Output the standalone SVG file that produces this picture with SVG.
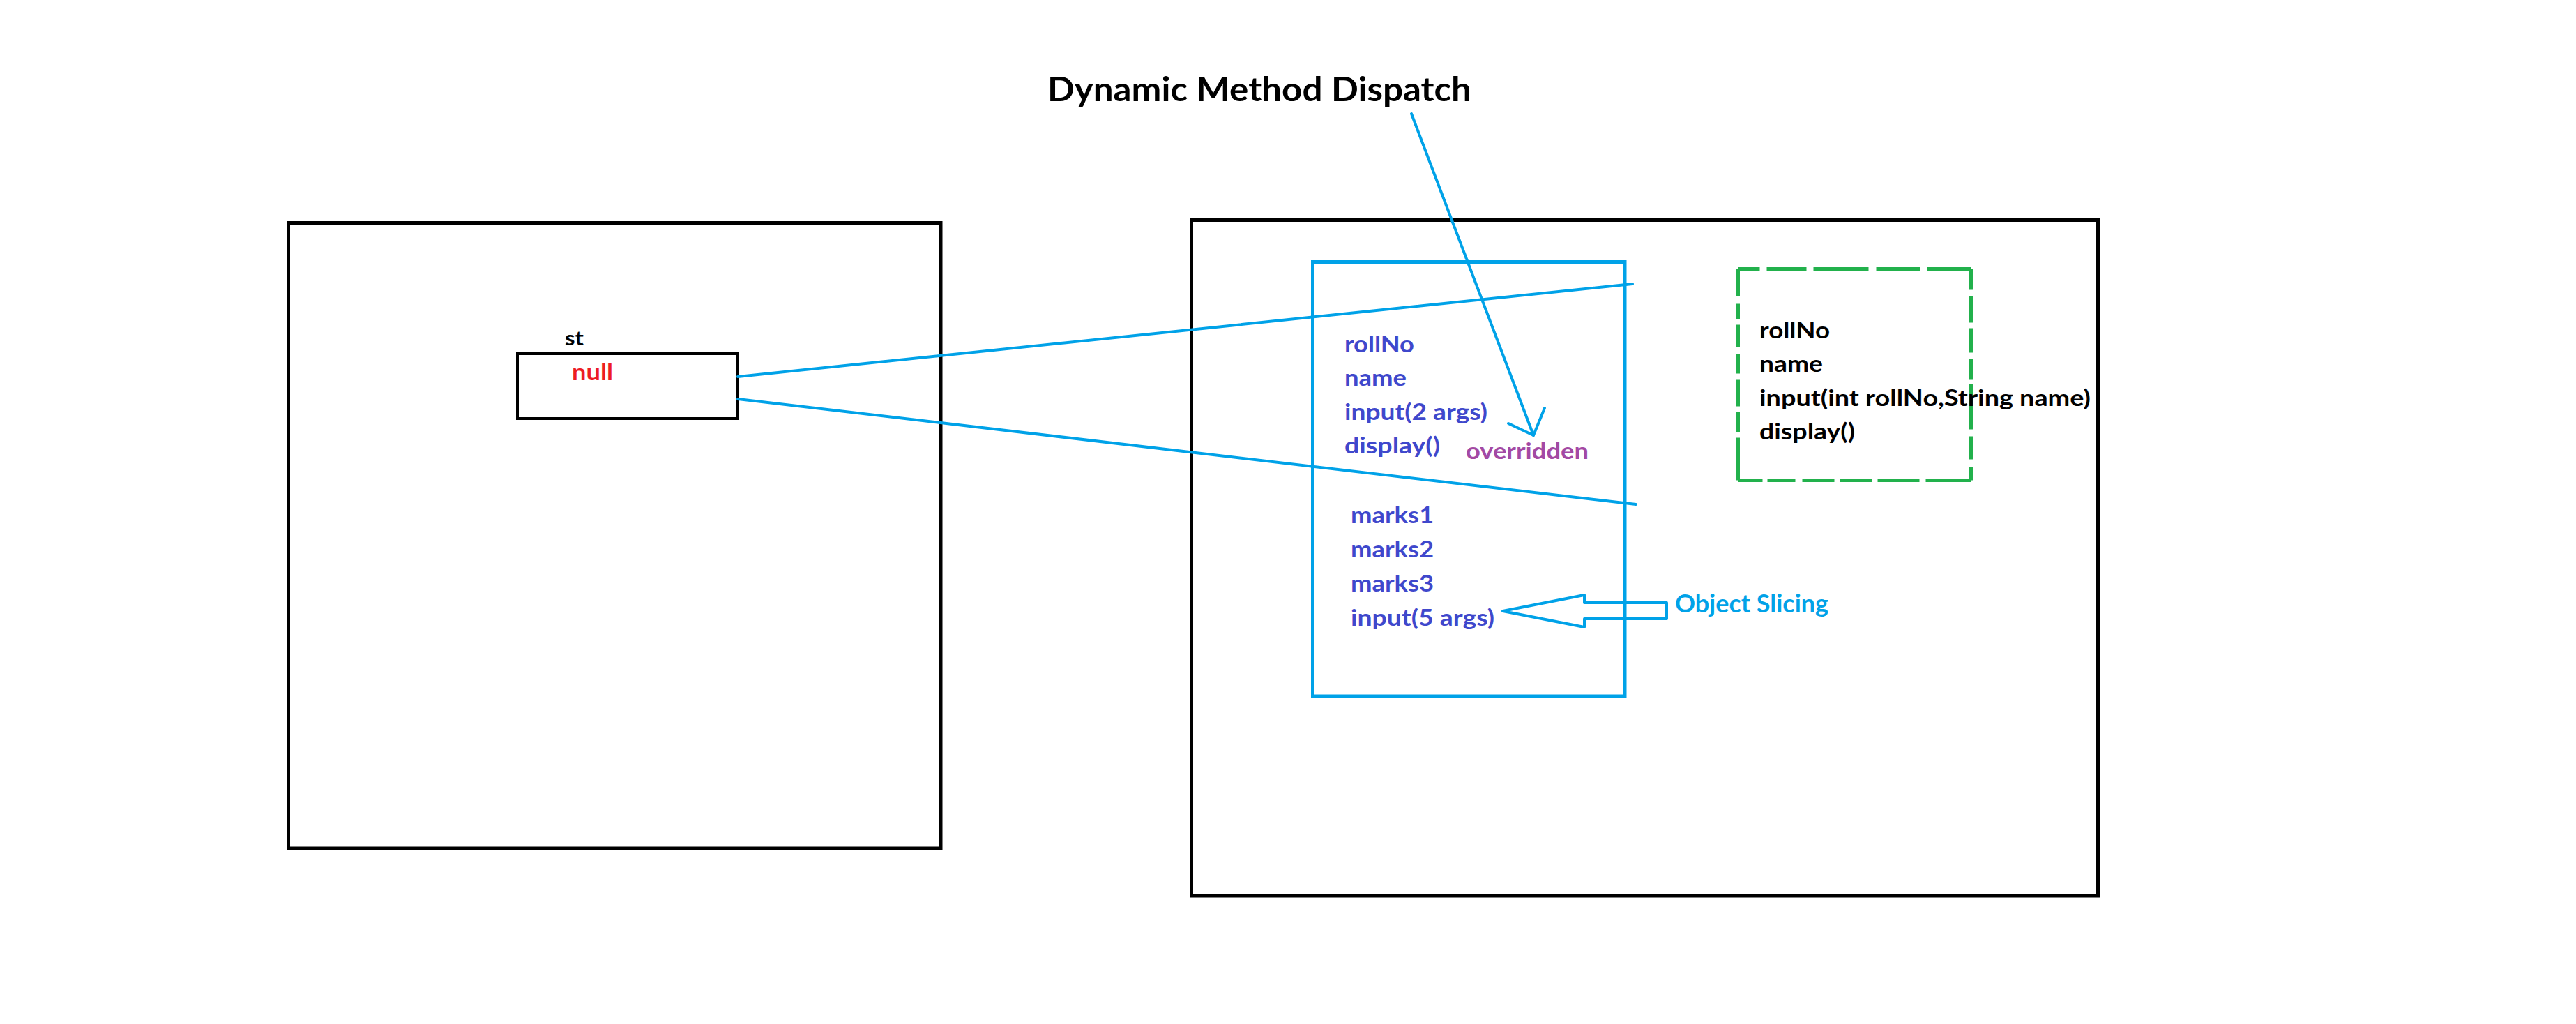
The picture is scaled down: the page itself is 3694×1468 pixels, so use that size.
<svg xmlns="http://www.w3.org/2000/svg" width="3694" height="1468" viewBox="0 0 3694 1468">
  <style>
    .frame { fill: none; stroke: #000000; stroke-width: 5; }
    .ref { fill: none; stroke: #000000; stroke-width: 4; }
    .obj { fill: none; stroke: #00a2e8; stroke-width: 5; }
    .dash { fill: none; stroke: #22b14c; stroke-width: 5; }
    .conn { fill: none; stroke: #00a2e8; stroke-width: 4; stroke-linecap: round; stroke-linejoin: round; }
    text { font-family: Lato, "Open Sans", "Liberation Sans", sans-serif; font-weight: bold; }
    .t { font-size: 32px; }
    .blue { fill: #3f48cc; }
    .black { fill: #000000; }
    .purple { fill: #a349a4; }
    .red { fill: #ed1c24; }
    .cyan { fill: #00a2e8; }
  </style>
  <rect width="3694" height="1468" fill="#ffffff"/>

  <g id="title">
    <text x="1502" y="145" font-size="48" class="black" textLength="608" lengthAdjust="spacingAndGlyphs">Dynamic Method Dispatch</text>
  </g>

  <g id="stack-frame">
    <rect class="frame" x="413.5" y="319.5" width="935.5" height="896.5"/>
  </g>

  <g id="st-ref">
    <text x="810" y="495" font-size="29" class="black" textLength="27" lengthAdjust="spacingAndGlyphs">st</text>
    <rect class="ref" x="742" y="507" width="316" height="93"/>
    <text x="820" y="545" font-size="32" class="red" textLength="59" lengthAdjust="spacingAndGlyphs">null</text>
  </g>

  <g id="heap-frame">
    <rect class="frame" x="1708.5" y="315.5" width="1300" height="968.5"/>
  </g>

  <g id="child-object">
    <rect class="obj" x="1882.5" y="375.5" width="447.5" height="622.5"/>
    <text class="t blue" x="1928" y="505" textLength="100" lengthAdjust="spacingAndGlyphs">rollNo</text>
    <text class="t blue" x="1928" y="553" textLength="89" lengthAdjust="spacingAndGlyphs">name</text>
    <text class="t blue" x="1928" y="602" textLength="205" lengthAdjust="spacingAndGlyphs">input(2 args)</text>
    <text class="t blue" x="1928" y="650" textLength="137" lengthAdjust="spacingAndGlyphs">display()</text>
    <text class="t purple" x="2102" y="658" textLength="176" lengthAdjust="spacingAndGlyphs">overridden</text>
    <text class="t blue" x="1937" y="750" textLength="119" lengthAdjust="spacingAndGlyphs">marks1</text>
    <text class="t blue" x="1937" y="799" textLength="119" lengthAdjust="spacingAndGlyphs">marks2</text>
    <text class="t blue" x="1937" y="848" textLength="119" lengthAdjust="spacingAndGlyphs">marks3</text>
    <text class="t blue" x="1937" y="897" textLength="206" lengthAdjust="spacingAndGlyphs">input(5 args)</text>
  </g>

  <g id="parent-view">
    <path class="dash" d="M2492.5 385.5 H2826.5" stroke-dasharray="31 10 57 10 79 11 63 10 64"/>
    <path class="dash" d="M2826.5 385.5 V688.5" stroke-dasharray="30 9 38 8 35 9 30 6 65 10 33 11 23"/>
    <path class="dash" d="M2492.5 688.5 H2826.5" stroke-dasharray="35 7 40 10 46 8 46 8 60 9 68"/>
    <path class="dash" d="M2492.5 385.5 V688.5" stroke-dasharray="39 11 22 8 32 10 28 9 38 8 29 8 63"/>
    <text class="t black" x="2523" y="485" textLength="101" lengthAdjust="spacingAndGlyphs">rollNo</text>
    <text class="t black" x="2523" y="533" textLength="91" lengthAdjust="spacingAndGlyphs">name</text>
    <text class="t black" x="2523" y="582" textLength="475" lengthAdjust="spacingAndGlyphs">input(int rollNo,String name)</text>
    <text class="t black" x="2523" y="630" textLength="137" lengthAdjust="spacingAndGlyphs">display()</text>
  </g>

  <g id="slicing-label">
    <text x="2402" y="878" font-size="37" class="cyan" textLength="220" lengthAdjust="spacingAndGlyphs">Object Slicing</text>
  </g>

  <g id="connectors">
    <line class="conn" x1="1058" y1="540" x2="2341" y2="407"/>
    <line class="conn" x1="1058" y1="572" x2="2346" y2="723"/>
    <line class="conn" x1="2024" y1="163" x2="2199" y2="624"/>
    <polyline class="conn" points="2163,607 2199,624 2215,585"/>
    <polygon class="conn" points="2155,876 2272,853 2272,864 2390,864 2390,887 2272,887 2272,899"/>
  </g>
</svg>
